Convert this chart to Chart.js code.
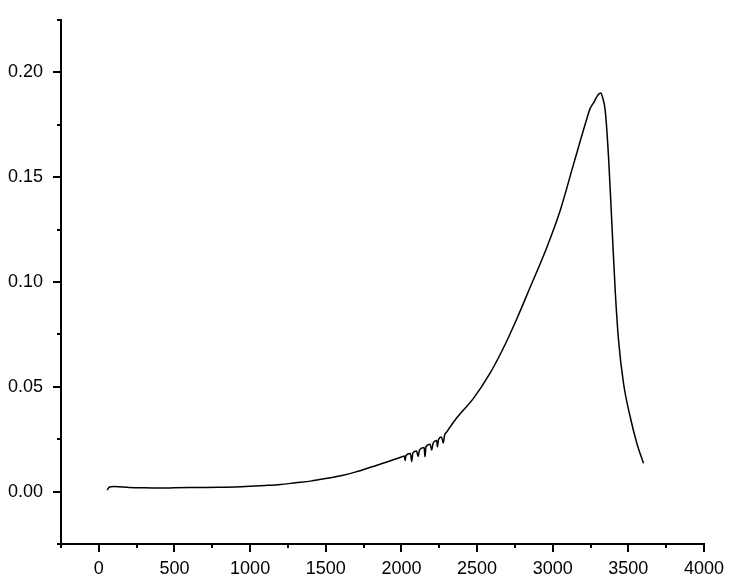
<!DOCTYPE html>
<html lang="en">
<head>
    <meta charset="UTF-8">
    <title>Curve</title>
    <style>
        body {
            margin: 0;
            padding: 0;
            background-color: #fff;
        }

        .chart-box {
            width: 744px;
            height: 585px;
        }
    </style>
</head>
<body>

    <div class="chart-box">
        <canvas id="curveChart" width="744" height="585"></canvas>
    </div>

    <script src="https://cdn.jsdelivr.net/npm/chart.js"></script>

    <script>
        // values
        const xValues = [
            55, 70, 100, 200, 300, 400, 500, 600, 700, 800, 900, 1000,
            1100, 1200, 1300, 1400, 1500, 1600, 1700, 1800, 1900, 2000,
            2020, 2024, 2030, 2060, 2068, 2076, 2100, 2110, 2120, 2150, 2156, 2162,
            2190, 2200, 2210, 2233, 2238, 2245, 2265, 2277, 2285, 2300,
            2366, 2476, 2586, 2674, 2763, 2851, 2961, 3049, 3137, 3226,
            3247, 3270, 3300, 3318, 3330, 3347, 3369, 3391, 3413, 3435,
            3468, 3512, 3556, 3600
        ];
        const yValues = [
            0.0008, 0.0022, 0.0024, 0.0020, 0.0018, 0.0017, 0.0018, 0.0019, 0.0020, 0.0021, 0.0022, 0.0025,
            0.0029, 0.0034, 0.0042, 0.0050, 0.0062, 0.0076, 0.0094, 0.0117, 0.0140, 0.0165,
            0.0170, 0.0148, 0.0172, 0.0182, 0.0143, 0.0185, 0.0194, 0.0168, 0.0199, 0.0210, 0.0166, 0.0213,
            0.0226, 0.0198, 0.0232, 0.0244, 0.0214, 0.0248, 0.0260, 0.0232, 0.0268, 0.0285,
            0.0352, 0.0445, 0.0565, 0.0685, 0.0825, 0.0975, 0.1165, 0.1340, 0.1560, 0.1780,
            0.1827, 0.1855, 0.1893, 0.1902, 0.1880, 0.1819, 0.1597, 0.1279, 0.0961, 0.0723,
            0.0517, 0.0357, 0.0231, 0.0135
        ];

        const xMajorStep = 500;
        const yMajorStep = 0.05;

        let points = xValues.map((x, i) => ({ x: x, y: yValues[i] }));

        // draws the outside tick marks, long for major and short for minor
        const tickMarks = {
            id: 'tickMarks',
            afterDraw(chart) {
                let ctx = chart.ctx;
                let xs = chart.scales.x;
                let ys = chart.scales.y;
                ctx.save();
                ctx.strokeStyle = '#000';
                ctx.lineWidth = 2;
                ctx.beginPath();
                xs.ticks.forEach(t => {
                    let px = Math.round(xs.getPixelForValue(t.value));
                    let major = Math.abs(t.value / xMajorStep - Math.round(t.value / xMajorStep)) < 1e-6;
                    ctx.moveTo(px, xs.top);
                    ctx.lineTo(px, xs.top + (major ? 8 : 4));
                });
                ys.ticks.forEach(t => {
                    let py = Math.round(ys.getPixelForValue(t.value));
                    let major = Math.abs(t.value / yMajorStep - Math.round(t.value / yMajorStep)) < 1e-6;
                    ctx.moveTo(ys.right, py);
                    ctx.lineTo(ys.right - (major ? 8 : 4), py);
                });
                ctx.stroke();
                ctx.restore();
            }
        };

        let ctx = document.getElementById('curveChart').getContext('2d');
        let chart = new Chart(ctx, {
            type: 'scatter',
            data: {
                datasets: [{
                    data: points,
                    showLine: true,
                    borderColor: '#000',
                    borderWidth: 1.5,
                    pointRadius: 0,
                    cubicInterpolationMode: 'monotone'
                }]
            },
            options: {
                responsive: false,
                animation: false,
                layout: {
                    padding: { top: 20, right: 40, left: 0, bottom: 0 }
                },
                plugins: {
                    legend: { display: false },
                    tooltip: { enabled: false }
                },
                scales: {
                    x: {
                        type: 'linear',
                        min: -250,
                        max: 4000,
                        afterFit: s => { s.height = 41; },
                        border: { display: true, color: '#000', width: 2 },
                        grid: { display: true, drawOnChartArea: false, drawTicks: false },
                        ticks: {
                            stepSize: 250,
                            autoSkip: false,
                            maxRotation: 0,
                            padding: 14,
                            color: '#000',
                            font: { family: 'Liberation Sans', size: 18 },
                            callback: v => (v % xMajorStep === 0 && v >= 0) ? String(v) : ''
                        }
                    },
                    y: {
                        type: 'linear',
                        min: -0.025,
                        max: 0.225,
                        afterFit: s => {
                            s.width = 61;
                            s.paddingTop = 0;
                            s.paddingBottom = 0;
                        },
                        border: { display: true, color: '#000', width: 2 },
                        grid: { display: true, drawOnChartArea: false, drawTicks: false },
                        ticks: {
                            stepSize: 0.025,
                            autoSkip: false,
                            padding: 18,
                            color: '#000',
                            font: { family: 'Liberation Sans', size: 18 },
                            callback: v => {
                                let k = Math.round(v * 1000);
                                return (k % 50 === 0) ? (k / 1000).toFixed(2) : '';
                            }
                        }
                    }
                }
            },
            plugins: [tickMarks]
        });
    </script>
</body>
</html>
